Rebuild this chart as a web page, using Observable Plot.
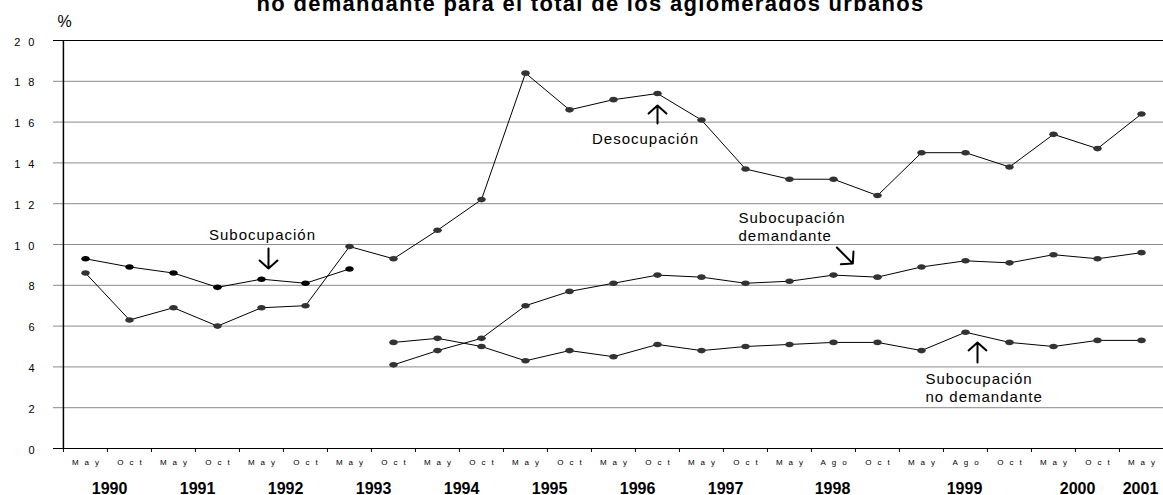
<!DOCTYPE html>
<html><head><meta charset="utf-8">
<script src="https://cdn.jsdelivr.net/npm/d3@7"></script>
<script src="https://cdn.jsdelivr.net/npm/@observablehq/plot@0.6"></script>
<style>
body{margin:0;background:#fff;font-family:"Liberation Sans",Arial,sans-serif;}
#wrap{position:relative;width:1163px;height:495px;overflow:hidden;background:#fff;}
#title{position:absolute;z-index:2;left:9px;top:-6px;width:1163px;text-align:center;font:bold 22px "Liberation Sans",Arial,sans-serif;line-height:20px;letter-spacing:1.3px;white-space:nowrap;color:#000;}
#chart{position:absolute;z-index:1;left:0;top:0;}
g[aria-label="x-axis tick label"] text{letter-spacing:6px;}
g[aria-label="y-axis tick label"] text{letter-spacing:8px;}
g[fill="#010101"] text{letter-spacing:1px;}
</style></head><body>
<div id="wrap"><div id="title">no demandante para el total de los aglomerados urbanos</div><div id="chart"></div></div>
<script>
// ---- data ----
const months = ["May","Oct","May","Oct","May","Oct","May","Oct","May","Oct","May","Oct","May","Oct","May","Oct","May","Ago","Oct","May","Ago","Oct","May","Oct","May"];
const periodYears = [1990,1990,1991,1991,1992,1992,1993,1993,1994,1994,1995,1995,1996,1996,1997,1997,1998,1998,1998,1999,1999,1999,2000,2000,2001];
const desocupacion = [8.6,6.3,6.9,6.0,6.9,7.0,9.9,9.3,10.7,12.2,18.4,16.6,17.1,17.4,16.1,13.7,13.2,13.2,12.4,14.5,14.5,13.8,15.4,14.7,16.4];
const subocupacion = [9.3,8.9,8.6,7.9,8.3,8.1,8.8,null,null,null,null,null,null,null,null,null,null,null,null,null,null,null,null,null,null];
const subDemandante = [null,null,null,null,null,null,null,4.1,4.8,5.4,7.0,7.7,8.1,8.5,8.4,8.1,8.2,8.5,8.4,8.9,9.2,9.1,9.5,9.3,9.6];
const subNoDemandante = [null,null,null,null,null,null,null,5.2,5.4,5.0,4.3,4.8,4.5,5.1,4.8,5.0,5.1,5.2,5.2,4.8,5.7,5.2,5.0,5.3,5.3];
const yTicks = [0,2,4,6,8,10,12,14,16,18,20];
const yearLabels = ["1990","1991","1992","1993","1994","1995","1996","1997","1998","1999","2000","2001"];
const yearAnchors = ["May 1990","May 1991","May 1992","May 1993","May 1994","May 1995","May 1996","May 1997","Ago 1998","Ago 1999","May 2000","May 2001"];
const yearBetween = [true,true,true,true,true,true,true,true,false,false,true,false];

// ---- build ----
const periods = months.map((m, i) => `${m} ${periodYears[i]}`);
const monthOf = Object.fromEntries(periods.map((p, i) => [p, months[i]]));
const rows = (arr, name) => arr.map((v, i) => ({period: periods[i], value: v, series: name})).filter(d => d.value != null);
const sDes = rows(desocupacion, "Desocupación");
const sSub = rows(subocupacion, "Subocupación");
const sDem = rows(subDemandante, "Subocupación demandante");
const sNo = rows(subNoDemandante, "Subocupación no demandante");
const years = yearLabels.map((t, i) => ({label: t, anchor: yearAnchors[i], between: yearBetween[i]}));

const W = 1163, H = 495, ML = 61, MT = 40, MB = 47;
const xRange = [ML, 1165];
const bw = (xRange[1] - xRange[0]) / periods.length;

const ellipse = {draw(ctx) {
  const rx = 4.3, ry = 2.8, k = 0.5523;
  ctx.moveTo(rx, 0);
  ctx.bezierCurveTo(rx, ry * k, rx * k, ry, 0, ry);
  ctx.bezierCurveTo(-rx * k, ry, -rx, ry * k, -rx, 0);
  ctx.bezierCurveTo(-rx, -ry * k, -rx * k, -ry, 0, -ry);
  ctx.bezierCurveTo(rx * k, -ry, rx, -ry * k, rx, 0);
  ctx.closePath();
}};

const annotations = [
  {text: "Desocupación", x: "Oct 1996", y: 14.95, dx: -12, anchor: "middle"},
  {text: "Subocupación", x: "May 1992", y: 10.2, dx: 1, anchor: "middle"},
  {text: "Subocupación\ndemandante", x: "Oct 1997", y: 10.15, dx: -7, anchor: "start"},
  {text: "Subocupación\nno demandante", x: "May 1999", y: 2.3, dx: 4, anchor: "start"}
];
const arrowStyle = {stroke: "black", strokeWidth: 2, headLength: 9, headAngle: 96, bend: 0};

const chart = Plot.plot({
  width: W, height: H,
  marginTop: MT, marginBottom: MB, marginLeft: ML, marginRight: 0,
  style: {fontFamily: "'Liberation Sans', Arial, sans-serif", background: "#fff", color: "#000", overflow: "visible"},
  x: {type: "band", domain: periods, range: xRange, padding: 0},
  y: {domain: [0, 20]},
  marks: [
    Plot.ruleY(yTicks.filter(d => d !== 0 && d !== 20), {stroke: "#8a8a8a", strokeWidth: 1, insetLeft: -8}),
    Plot.ruleY([0, 20], {stroke: "black", strokeWidth: 1, insetLeft: -8}),
    Plot.ruleX([periods[0]], {dx: -bw / 2, stroke: "black", strokeWidth: 1.5}),
    Plot.ruleX(periods, {x: d => d, y1: 0, y2: -4 / 20.4, dx: -bw / 2, stroke: "black", strokeWidth: 1}),
    Plot.axisX({tickSize: 0, tickPadding: 11, fontSize: 8, dx: 3, label: null, tickFormat: k => monthOf[k]}),
    Plot.axisY({ticks: yTicks, tickSize: 0, tickPadding: 19, fontSize: 11, dy: 1.5, label: null, tickFormat: d => String(d)}),
    Plot.text(["%"], {frameAnchor: "top-left", dx: -4, dy: -14, fontSize: 16, textAnchor: "start", lineAnchor: "bottom", text: d => d}),
    Plot.text(years.filter(d => d.between), {x: "anchor", text: "label", frameAnchor: "bottom", dx: bw / 2 + 2, dy: 45, lineAnchor: "bottom", fontSize: 16, fontWeight: "bold"}),
    Plot.text(years.filter(d => !d.between), {x: "anchor", text: "label", frameAnchor: "bottom", dx: -1, dy: 45, lineAnchor: "bottom", fontSize: 16, fontWeight: "bold"}),
    Plot.line(sDes, {x: "period", y: "value", stroke: "black", strokeWidth: 1}),
    Plot.line(sSub, {x: "period", y: "value", stroke: "black", strokeWidth: 1}),
    Plot.line(sDem, {x: "period", y: "value", stroke: "black", strokeWidth: 1}),
    Plot.line(sNo, {x: "period", y: "value", stroke: "black", strokeWidth: 1}),
    Plot.dot(sDes, {x: "period", y: "value", symbol: ellipse, fill: "#333", stroke: "none"}),
    Plot.dot(sDem, {x: "period", y: "value", symbol: ellipse, fill: "#333", stroke: "none"}),
    Plot.dot(sNo, {x: "period", y: "value", symbol: ellipse, fill: "#333", stroke: "none"}),
    Plot.dot(sSub, {x: "period", y: "value", symbol: ellipse, fill: "#000", stroke: "none"}),
    ...annotations.map(a => Plot.text([a], {x: "x", y: "y", text: "text", dx: a.dx, textAnchor: a.anchor, lineAnchor: "bottom", lineHeight: 1.2, fontSize: 15, fill: "#010101"})),
    Plot.arrow([{x: "Oct 1996", y1: 14.85, y2: 16.81}], {x1: "x", x2: "x", y1: "y1", y2: "y2", insetStart: 22, ...arrowStyle}),
    Plot.arrow([{x: "May 1992", y1: 10.78, y2: 8.82}], {x1: "x", x2: "x", y1: "y1", y2: "y2", dx: 7, insetStart: 20, ...arrowStyle}),
    Plot.arrow([{x1: "Ago 1998", x2: "Oct 1998", y1: 10.02, y2: 7.85}], {x1: "x1", x2: "x2", y1: "y1", y2: "y2", insetStart: 4.8, insetEnd: 35, ...arrowStyle}),
    Plot.arrow([{x: "Ago 1999", y1: 3.24, y2: 5.2}], {x1: "x", x2: "x", y1: "y1", y2: "y2", dx: 12, insetStart: 20, ...arrowStyle})
  ]
});
document.getElementById("chart").appendChild(chart);
</script>
</body></html>
